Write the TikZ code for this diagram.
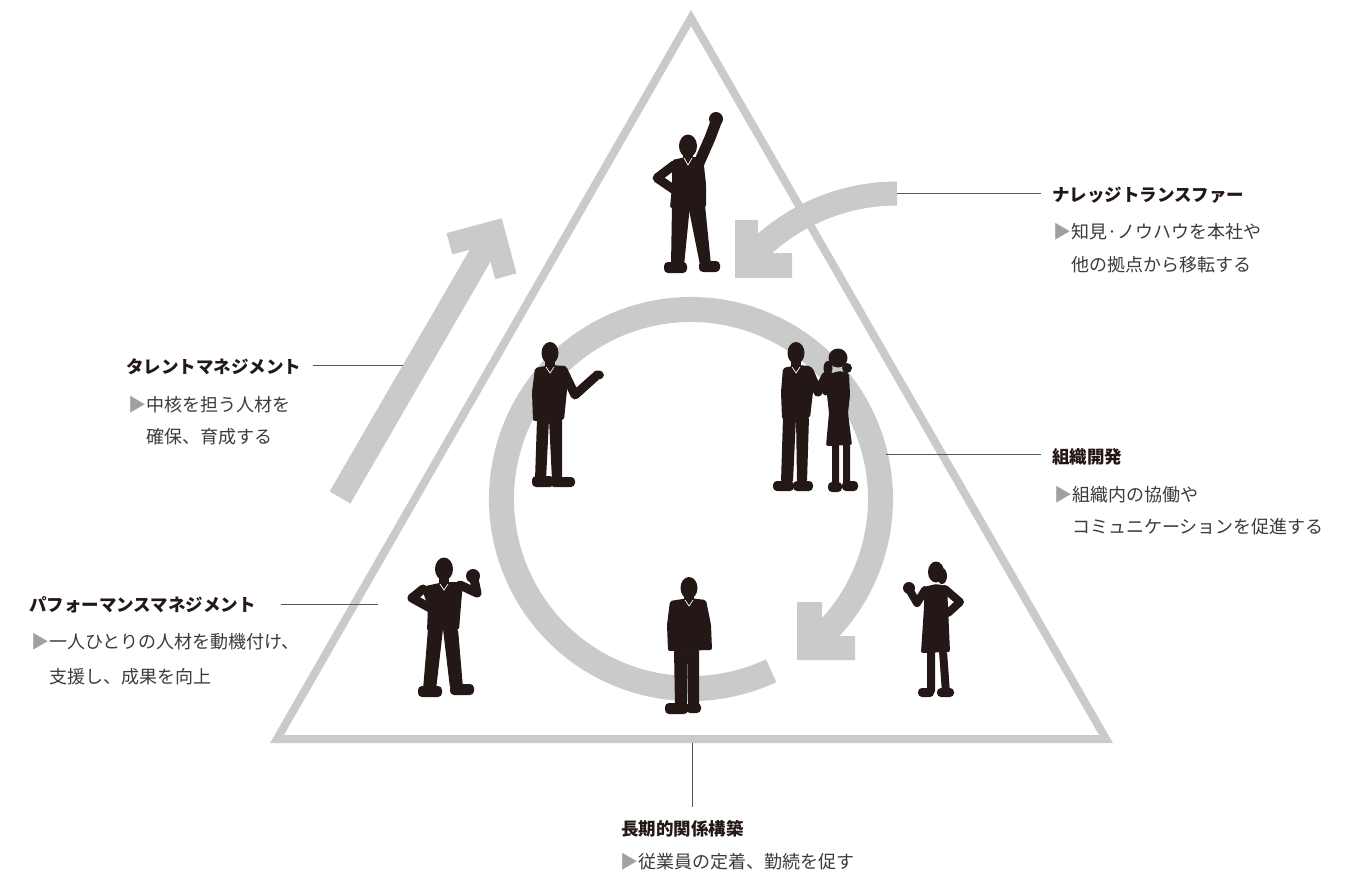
\documentclass[tikz,border=0pt]{standalone}
\usepackage{fontspec}
\setmainfont{Noto Sans CJK JP}
\usetikzlibrary{calc}
\definecolor{bandgrey}{RGB}{201,202,202}
\definecolor{ink}{RGB}{35,24,21}
\definecolor{txt}{RGB}{62,58,57}
\definecolor{tri}{RGB}{159,160,160}
\definecolor{rule}{RGB}{89,87,87}
\newcommand{\ptr}{{\color{tri}▶}}
\begin{document}
\begin{tikzpicture}[x=1bp, y=-1bp,
  title/.style={anchor=base west, inner sep=0pt, text=ink, font=\fontsize{17.5bp}{21bp}\selectfont\bfseries},
  bodytext/.style={anchor=base west, inner sep=0pt, text=txt, font=\fontsize{18bp}{22bp}\selectfont},
  leader/.style={draw=rule, line width=1bp},
  band/.style={draw=bandgrey, line cap=butt},
  silhouette/.style={fill=ink, rounded corners=2bp},
  limb/.style={draw=ink, line cap=round, line join=round},
  collar/.style={draw=white, line width=0.7bp}
]
\fill[white] (0,0) rectangle (1355,877);
\useasboundingbox (0,0) rectangle (1355,877);

% ---------- triangle frame ----------
\draw[bandgrey, line width=8bp, line join=miter] (691,18) -- (1106,739) -- (277,739) -- cycle;

% ---------- circular cycle arrow ----------
\coordinate (ringC) at (691,499);
\draw[band, line width=25bp] (ringC) ++(65:189.5) arc[start angle=65, end angle=408, radius=189.5];
\fill[bandgrey] (797,660) -- (797,602) -- (822,602) -- (822,636) -- (855,636) -- (855,660) -- cycle;

% ---------- curved arrow (knowledge transfer) ----------
\coordinate (ktC) at (897,393);
\draw[band, line width=24bp] (ktC) ++(270:199.5) arc[start angle=270, end angle=222, radius=199.5];
\fill[bandgrey] (735,278) -- (735,220) -- (758,220) -- (758,253) -- (792,253) -- (792,278) -- cycle;

% ---------- straight rising arrow (talent management) ----------
\draw[band, line width=24bp] (340,497.5) -- (489.2,240);
\fill[bandgrey] (501.7,218.3) -- (446.6,233.1) -- (452.3,254.4) -- (486.1,245.2) -- (495.2,279.1) -- (516.5,273.4) -- cycle;

% ---------- figure: man with raised arm (top) ----------
\fill[ink] (688,146) ellipse[x radius=9, y radius=11.5];
\fill[ink] (683,152) rectangle (693,161);
\fill[silhouette] (672,160) -- (686,157) -- (703,157) -- (706,184) -- (706,207) -- (670,208) -- (672,186) -- cycle;
\draw[limb, line width=11bp] (699,163) -- (710,138) -- (716,122);
\fill[ink] (716,119) circle[radius=7];
\draw[limb, line width=9bp] (674,165) -- (657,178) -- (676,191);
\fill[silhouette] (672,205) -- (690,205) -- (684,266) -- (671,266) -- cycle;
\fill[silhouette] (688,205) -- (705,205) -- (711,265) -- (700,265) -- cycle;
\fill[ink, rounded corners=4bp] (664,262) rectangle (687,273);
\fill[ink, rounded corners=4bp] (699,261) rectangle (720,272);
\draw[collar] (684,158) -- (688,165) -- (692,158);

% ---------- figure: man gesturing (middle left) ----------
\fill[ink] (550,353) ellipse[x radius=8.5, y radius=11];
\fill[ink] (545,358) rectangle (555,368);
\fill[silhouette] (535,368) -- (550,365) -- (565,366) -- (567,390) -- (564,420) -- (533,421) -- (532,392) -- cycle;
\draw[limb, line width=9bp] (563,370) -- (575,395) -- (595,377);
\fill[ink] (598,375) ellipse[x radius=6, y radius=4.5];
\fill[silhouette] (537,419) -- (549,419) -- (546,480) -- (535,480) -- cycle;
\fill[silhouette] (549,419) -- (562,419) -- (562,480) -- (552,480) -- cycle;
\fill[ink, rounded corners=4bp] (532,476) rectangle (554,487);
\fill[ink, rounded corners=4bp] (550,477) rectangle (575,487);
\draw[collar] (546,367) -- (550,373) -- (554,367);

% ---------- figures: man and woman talking (middle right) ----------
\fill[ink] (796,353) ellipse[x radius=8.5, y radius=11];
\fill[ink] (791,358) rectangle (801,368);
\fill[silhouette] (783,368) -- (797,365) -- (811,366) -- (813,392) -- (810,418) -- (782,419) -- (781,392) -- cycle;
\draw[limb, line width=9bp] (809,371) -- (818,392) -- (826,376);
\fill[silhouette] (783,417) -- (796,417) -- (793,482) -- (781,482) -- cycle;
\fill[silhouette] (796,417) -- (809,417) -- (807,482) -- (797,482) -- cycle;
\fill[ink, rounded corners=4bp] (773,481) rectangle (794,491);
\fill[ink, rounded corners=4bp] (793,481) rectangle (813,491);
\draw[collar] (792,367) -- (796,373) -- (800,367);
\fill[ink] (838,358) circle[radius=9.5];
\fill[ink] (847,368) circle[radius=5];
\fill[silhouette] (828,374) -- (840,371) -- (849,373) -- (850,395) -- (848,413) -- (852,445) -- (826,446) -- (829,413) -- (827,395) -- cycle;
\draw[limb, line width=7bp] (830,378) -- (826,392) -- (828,372);
\fill[ink] (828,368) ellipse[x radius=4.5, y radius=7];
\fill[silhouette] (832,444) -- (839,444) -- (839,486) -- (832,486) -- cycle;
\fill[silhouette] (843,444) -- (850,444) -- (850,486) -- (843,486) -- cycle;
\fill[ink, rounded corners=4bp] (828,482) rectangle (842,492);
\fill[ink, rounded corners=4bp] (842,481) rectangle (858,491);

% ---------- figure: man with fist (bottom left) ----------
\fill[ink] (444,569) ellipse[x radius=9, y radius=11.5];
\fill[ink] (439,575) rectangle (449,585);
\fill[silhouette] (421,587) -- (444,582) -- (463,582) -- (461,605) -- (459,630) -- (427,631) -- (428,606) -- cycle;
\draw[limb, line width=9bp] (423,589) -- (412,598) -- (432,609);
\draw[limb, line width=9bp] (460,585) -- (477,593) -- (474,579);
\fill[ink] (473,576) circle[radius=7];
\fill[silhouette] (428,629) -- (443,629) -- (436,690) -- (423,690) -- cycle;
\fill[silhouette] (443,629) -- (458,629) -- (463,688) -- (450,688) -- cycle;
\fill[ink, rounded corners=4bp] (418,686) rectangle (442,697);
\fill[ink, rounded corners=4bp] (450,684) rectangle (474,695);
\draw[collar] (440,584) -- (444,590) -- (448,584);

% ---------- figure: man standing (bottom centre) ----------
\fill[ink] (689,588) ellipse[x radius=8.5, y radius=11];
\fill[ink] (684,594) rectangle (694,602);
\fill[silhouette] (670,601) -- (689,598) -- (706,600) -- (711,625) -- (712,650) -- (668,651) -- (667,625) -- cycle;
\fill[silhouette] (674,649) -- (688,649) -- (687,707) -- (675,707) -- cycle;
\fill[silhouette] (688,649) -- (699,649) -- (699,707) -- (688,707) -- cycle;
\fill[ink, rounded corners=4bp] (665,703) rectangle (688,714);
\fill[ink, rounded corners=4bp] (686,703) rectangle (701,713);
\draw[collar] (685,600) -- (689,606) -- (693,600);

% ---------- figure: woman with fist (bottom right) ----------
\fill[ink] (936,572) ellipse[x radius=8, y radius=10.5];
\fill[ink] (942,576) ellipse[x radius=5, y radius=8];
\fill[silhouette] (924,587) -- (936,584) -- (947,586) -- (948,607) -- (950,652) -- (921,653) -- (924,607) -- cycle;
\draw[limb, line width=8bp] (925,590) -- (917,603) -- (910,591);
\fill[ink] (909,588) circle[radius=6];
\draw[limb, line width=8bp] (945,589) -- (960,602) -- (948,613);
\fill[silhouette] (927,651) -- (935,651) -- (935,693) -- (927,693) -- cycle;
\fill[silhouette] (939,651) -- (947,651) -- (950,693) -- (942,693) -- cycle;
\fill[ink, rounded corners=4bp] (918,688) rectangle (934,697);
\fill[ink, rounded corners=4bp] (937,688) rectangle (954,697);

% ---------- labels ----------
\node[title] (kt-title) at (1052,201.5) {ナレッジトランスファー};
\node[bodytext] (kt-l1) at (1053,238.5) {\ptr 知見·ノウハウを本社や};
\node[bodytext] (kt-l2) at (1071,271.5) {他の拠点から移転する};

\node[title] (tm-title) at (126,373) {タレントマネジメント};
\node[bodytext] (tm-l1) at (128,411.5) {\ptr 中核を担う人材を};
\node[bodytext] (tm-l2) at (146,443) {確保、育成する};

\node[title] (od-title) at (1052,463) {組織開発};
\node[bodytext] (od-l1) at (1054,501.5) {\ptr 組織内の協働や};
\node[bodytext] (od-l2) at (1072,533) {コミュニケーションを促進する};

\node[title] (pm-title) at (29,611.5) {パフォーマンスマネジメント};
\node[bodytext] (pm-l1) at (31,648) {\ptr 一人ひとりの人材を動機付け、};
\node[bodytext] (pm-l2) at (49,683) {支援し、成果を向上};

\node[title] (lt-title) at (621,835) {長期的関係構築};
\node[bodytext] (lt-l1) at (620,868.5) {\ptr 従業員の定着、勤続を促す};

% ---------- leader lines ----------
\coordinate (ktA) at (897,193);
\coordinate (tmA) at (403,365.5);
\coordinate (odA) at (886,454);
\coordinate (pmA) at (378,604.5);
\coordinate (ltA) at (692,743);
\draw[leader, shorten >=11bp] (ktA) -- (kt-title.west |- ktA);
\draw[leader, shorten <=12bp] (tm-title.east |- tmA) -- (tmA);
\draw[leader, shorten >=11bp] (odA) -- (od-title.west |- odA);
\draw[leader, shorten <=25bp] (pm-title.east |- pmA) -- (pmA);
\draw[leader, shorten >=13bp] (ltA) -- (ltA |- lt-title.north);
\end{tikzpicture}
\end{document}
